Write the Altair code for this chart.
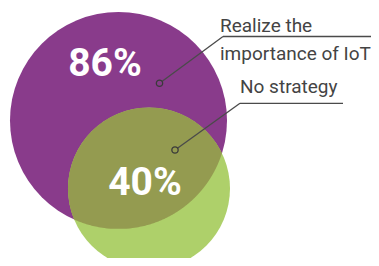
import altair as alt
import pandas as pd
import numpy as np

# ---- data ----
sets = ["Realize the importance of IoT", "No strategy"]
share = [86, 40]
share_text = ["86%", "40%"]
set_colors = ["#893b8b", "#aed06a"]
overlap_color = "#949b50"

ann_text = ["Realize the", "importance of IoT", "No strategy"]

# ---- layout (page pixel units) ----
W, H = 363, 250
circle_cx = [118.5, 149.0]
circle_cy = [120.5, 188.5]
circle_r = [108.5, 81.0]

pct_x = [105, 145]
pct_y = [76, 195]

ann_x = [220, 220, 240]
ann_y = [32, 60, 93]

seg_x = [223, 223, 240, 240]
seg_y = [36.5, 36.5, 103.3, 103.3]
seg_x2 = [375, 159.5, 343, 175]
seg_y2 = [36.5, 83.3, 103.3, 150]

dot_x = [159.5, 175]
dot_y = [83.3, 150]
dot_fill = [set_colors[0], overlap_color]

xs = alt.Scale(domain=[8, 8 + W], nice=False, zero=False)
ys = alt.Scale(domain=[8, 8 + H], nice=False, zero=False, reverse=True)

circles = pd.DataFrame({"set": sets, "share": share, "cx": circle_cx, "cy": circle_cy})
circ = alt.Chart(circles).mark_point(shape="circle", filled=True, opacity=1, strokeWidth=0).encode(
    x=alt.X("cx:Q", scale=xs, axis=None),
    y=alt.Y("cy:Q", scale=ys, axis=None),
    size=alt.Size("share:Q", scale=alt.Scale(domain=[40, 86],
                                             range=[4 * circle_r[1] ** 2, 4 * circle_r[0] ** 2]), legend=None),
    color=alt.Color("set:N", scale=alt.Scale(domain=sets, range=set_colors), legend=None),
    order=alt.Order("share:Q", sort="descending"),
)

# overlap lens
top = max(circle_cy[0] - circle_r[0], circle_cy[1] - circle_r[1])
bot = min(circle_cy[0] + circle_r[0], circle_cy[1] + circle_r[1])
yy = np.linspace(top, bot, 400)
h0 = np.sqrt(np.clip(circle_r[0] ** 2 - (yy - circle_cy[0]) ** 2, 0, None))
h1 = np.sqrt(np.clip(circle_r[1] ** 2 - (yy - circle_cy[1]) ** 2, 0, None))
xl = np.maximum(circle_cx[0] - h0, circle_cx[1] - h1)
xr = np.minimum(circle_cx[0] + h0, circle_cx[1] + h1)
ok = xr > xl
lens_df = pd.DataFrame({"y": yy[ok], "xl": xl[ok], "xr": xr[ok]})
lens = alt.Chart(lens_df).mark_area(orient="horizontal", color=overlap_color, opacity=1).encode(
    y=alt.Y("y:Q", scale=ys, axis=None),
    x=alt.X("xl:Q", scale=xs, axis=None),
    x2="xr:Q",
)

pct = alt.Chart(pd.DataFrame({"t": share_text, "x": pct_x, "y": pct_y})).mark_text(
    font="Roboto", fontSize=39, fontWeight="bold", color="white", align="center", baseline="alphabetic"
).encode(x=alt.X("x:Q", scale=xs), y=alt.Y("y:Q", scale=ys), text="t:N")

ann = alt.Chart(pd.DataFrame({"t": ann_text, "x": ann_x, "y": ann_y})).mark_text(
    font="Roboto", fontSize=19, color="#444444",
    align="left", baseline="alphabetic"
).encode(x=alt.X("x:Q", scale=xs), y=alt.Y("y:Q", scale=ys), text="t:N")

segs = alt.Chart(pd.DataFrame({"x": seg_x, "y": seg_y, "x2": seg_x2, "y2": seg_y2})).mark_rule(
    color="#4a4a4a", strokeWidth=1.3
).encode(x=alt.X("x:Q", scale=xs), y=alt.Y("y:Q", scale=ys), x2="x2:Q", y2="y2:Q")

dots = alt.Chart(pd.DataFrame({"x": dot_x, "y": dot_y, "f": dot_fill})).mark_point(
    shape="circle", filled=False, stroke="#3a3a3a", strokeWidth=1.3, opacity=1, size=40
).encode(x=alt.X("x:Q", scale=xs), y=alt.Y("y:Q", scale=ys), fill=alt.Fill("f:N", scale=None))

chart = alt.layer(circ, lens, pct, segs, dots, ann).properties(
    width=W, height=H, autosize=alt.AutoSizeParams(type="none"), padding=0
).configure_view(stroke=None)

chart.save("out.html", embed_options={"renderer": "svg", "actions": False})
